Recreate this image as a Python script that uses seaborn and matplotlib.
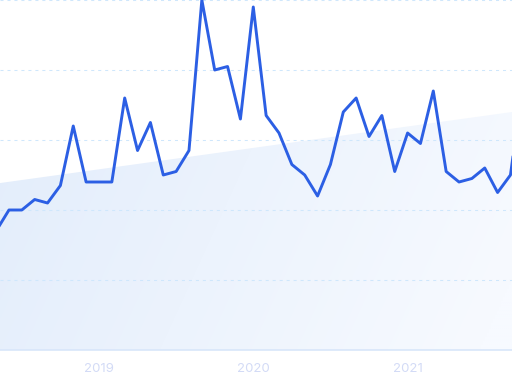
import numpy as np
import pandas as pd
import matplotlib
matplotlib.use("Agg")
import matplotlib.pyplot as plt
import seaborn as sns
from matplotlib.patches import Polygon

# ---- data (monthly, Google-Trends-like index, max = 100) ----
months = pd.period_range("2018-05", "2021-10", freq="M").astype(str).tolist()
values = [34, 40, 40, 43, 42, 47, 64, 48, 48, 48, 72, 57, 65, 50, 51, 57,
          100, 80, 81, 66, 98, 67, 62, 53, 50, 44, 53, 68, 72, 61, 67, 51,
          62, 59, 74, 51, 48, 49, 52, 45, 50, 77]
year_ticks = ["2019", "2020", "2021"]
# trend band: value at the left and right edge of the view
trend_left, trend_right = 47.7, 68.0

sns.set_theme(style="white")
plt.rcParams["font.family"] = ["Inter", "DejaVu Sans"]

df = pd.DataFrame({"month": months, "value": values})
df["idx"] = np.arange(len(df))

W, H = 512, 384
fig = plt.figure(figsize=(W / 100, H / 100), dpi=100)
ax = fig.add_axes([0, (H - 350) / H, 1, 350 / H])

x0, x1 = 0.303, 40.12
ax.set_xlim(x0, x1)
ax.set_ylim(0, 100)

# trend area
poly = Polygon([(x0, 0), (x0, trend_left), (x1, trend_right), (x1, 0)],
               closed=True, facecolor="none", edgecolor="none")
ax.add_patch(poly)
c0 = np.array(matplotlib.colors.to_rgb("#e1ecfb"))
c1 = np.array(matplotlib.colors.to_rgb("#f7faff"))
gx, gy = np.meshgrid(np.linspace(0, 1, 256), np.linspace(0, 1, 256))
t = np.clip(0.8 * gx + 0.25 * (1 - gy), 0, 1)
img = c0[None, None, :] * (1 - t[..., None]) + c1[None, None, :] * t[..., None]
im = ax.imshow(img, extent=[x0, x1, 0, 100], origin="lower", aspect="auto",
               zorder=1, interpolation="bilinear")
im.set_clip_path(poly)

# grid lines
for gv in [20, 40, 60, 80, 100]:
    ax.axhline(gv, color="#cfe7fc", lw=0.75, ls=(0, (2.9, 3.8)), zorder=2)
ax.axhline(0, color="#d8e6fa", lw=1.2, zorder=2, clip_on=False)

sns.lineplot(data=df, x="idx", y="value", ax=ax, color="#2c5fe4", lw=2.1,
             zorder=3, solid_joinstyle="round", solid_capstyle="round")

ax.set_xticks([8, 20, 32])
ax.set_xticklabels(year_ticks)
ax.set_yticks([])
ax.tick_params(axis="x", length=0, pad=9, labelsize=9.5, labelcolor="#d3dbf6")
ax.set_xlabel("")
ax.set_ylabel("")
for s in ax.spines.values():
    s.set_visible(False)
ax.grid(False)
ax.set_facecolor("white")

fig.savefig("out.png", dpi=100)
